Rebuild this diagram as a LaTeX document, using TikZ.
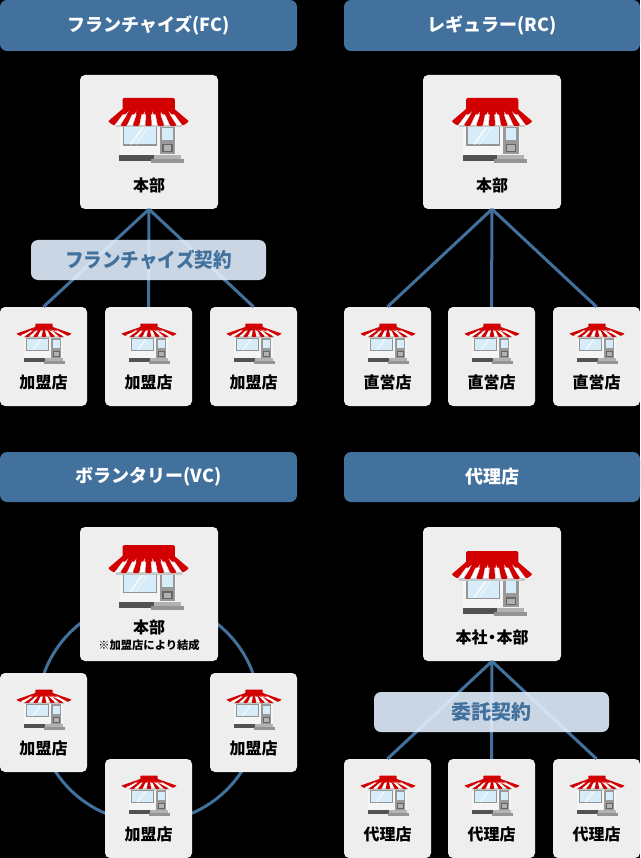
\documentclass[tikz,border=0pt]{standalone}
\usepackage{fontspec}
\setmainfont{Noto Sans CJK JP}
\definecolor{hdr}{RGB}{65,113,156}
\definecolor{boxc}{RGB}{238,238,238}
\definecolor{awn}{RGB}{210,0,0}
\definecolor{glass}{RGB}{214,236,248}
\definecolor{bandc}{RGB}{228,241,255}
\tikzset{
  header/.style={fill=hdr,draw=none,rounded corners=7pt,minimum width=297pt,minimum height=51pt,inner sep=0pt,text=white,font=\fontsize{18}{20}\selectfont\bfseries},
  bigbox/.style={fill=boxc,draw=none,rounded corners=5pt,minimum width=138pt,minimum height=134pt,inner sep=0pt},
  smallbox/.style={fill=boxc,draw=none,rounded corners=5pt,minimum width=87pt,minimum height=99pt,inner sep=0pt},
  lbl/.style={inner sep=0pt,text=black,font=\fontsize{16}{18}\selectfont\bfseries},
  note/.style={inner sep=0pt,text=black,font=\fontsize{11.3}{13}\selectfont\bfseries},
  link/.style={draw=hdr,line width=3pt},
  band/.style={fill=bandc,fill opacity=.89,text opacity=1,rounded corners=7pt,minimum width=235pt,minimum height=40pt,inner sep=0pt,text=hdr,font=\fontsize{20}{22}\selectfont\bfseries},
  shop/.pic={
    \fill[black!4] (-29,26) rectangle (27.5,57);
    \fill[black!42] (-25.7,27) rectangle (8.3,47.7);
    \fill[glass] (-24.5,28) rectangle (7.2,46.5);
    \fill[white!70!glass] (-19,46.5) -- (-6,28) -- (-3.5,28) -- (-16.5,46.5) -- cycle;
    \fill[white!70!glass] (-13,46.5) -- (0,28) -- (1,28) -- (-12,46.5) -- cycle;
    \fill[black!40] (11,27) rectangle (26.7,56.3);
    \fill[glass] (13.7,29.7) rectangle (24.3,42);
    \fill[black!60] (13.7,46) rectangle (24,54.3);
    \fill[black!30] (15.2,47.5) rectangle (22.5,52.8);
    \fill[black!68] (-29.3,57) rectangle (5,63);
    \fill[black!30] (5,57) rectangle (32.3,61);
    \fill[black!42] (2.3,61) rectangle (35,64.7);
    \fill[black!22] (-33,23) rectangle (33,29.5);
    \fill[awn] (-26,11) -- (26,11) -- (30,16.5) -- (-30,16.5) -- cycle;
    \foreach \i in {0,...,12}{
      \pgfmathsetmacro{\ta}{-26+4*\i}
      \pgfmathsetmacro{\tb}{-26+4*(\i+1)}
      \pgfmathsetmacro{\ba}{-40+6.154*\i}
      \pgfmathsetmacro{\bb}{-40+6.154*(\i+1)}
      \pgfmathsetmacro{\ya}{27-4*max(0,(abs(\ba)-34)/6)}
      \pgfmathsetmacro{\yb}{27-4*max(0,(abs(\bb)-34)/6)}
      \pgfmathsetmacro{\ca}{\ya+1.5}
      \pgfmathsetmacro{\cb}{\yb+1.5}
      \pgfmathparse{int(mod(\i,2))}
      \ifnum\pgfmathresult=0
        \fill[awn] (\ta,11) -- (\tb,11) -- (\bb,\yb) .. controls (\bb,\cb) and (\ba,\ca) .. (\ba,\ya) -- cycle;
      \else
        \fill[white] (\ta*.5+\tb*.5,13.5) -- (\bb-.5,\yb-.5) .. controls (\bb-.5,\cb-1) and (\ba+.5,\ca-1) .. (\ba+.5,\ya-.5) -- cycle;
      \fi
    }
    \fill[awn,rounded corners=1.5pt] (-26,0) rectangle (26.3,12);
  },
  minishop/.pic={
    \fill[black!4] (-20,11) rectangle (18.5,34);
    \fill[black!42] (-18,14.3) rectangle (4.7,26.7);
    \fill[glass] (-17.2,15) rectangle (3.9,26);
    \fill[white!70!glass] (-12,26) -- (-4,15) -- (-2.5,15) -- (-10.5,26) -- cycle;
    \fill[black!40] (7.3,14.3) rectangle (17,34.3);
    \fill[glass] (9,16) rectangle (15.5,24);
    \fill[black!60] (9,27) rectangle (15.5,33);
    \fill[black!30] (10,28) rectangle (14.5,32);
    \fill[black!68] (-20,34.3) rectangle (1.3,38.3);
    \fill[black!30] (1.3,34.3) rectangle (19,37);
    \fill[black!42] (-.5,37) rectangle (21,39.5);
    \fill[black!22] (-20,10) rectangle (20,14);
    \fill[awn] (-8.7,3) -- (8.7,3) -- (13,6.5) -- (-13,6.5) -- cycle;
    \foreach \i in {0,...,12}{
      \pgfmathsetmacro{\ta}{-8.7+1.338*\i}
      \pgfmathsetmacro{\tb}{-8.7+1.338*(\i+1)}
      \pgfmathsetmacro{\ba}{-27.3+4.2*\i}
      \pgfmathsetmacro{\bb}{-27.3+4.2*(\i+1)}
      \pgfmathsetmacro{\ya}{12.3-2.8*max(0,(abs(\ba)-21.5)/5.8)}
      \pgfmathsetmacro{\yb}{12.3-2.8*max(0,(abs(\bb)-21.5)/5.8)}
      \pgfmathsetmacro{\ca}{\ya+1}
      \pgfmathsetmacro{\cb}{\yb+1}
      \pgfmathparse{int(mod(\i,2))}
      \ifnum\pgfmathresult=0
        \fill[awn] (\ta,3) -- (\tb,3) -- (\bb,\yb) .. controls (\bb,\cb) and (\ba,\ca) .. (\ba,\ya) -- cycle;
      \else
        \fill[white] (\ta*.5+\tb*.5,5.5) -- (\bb-.5,\yb-.5) .. controls (\bb-.5,\cb-.8) and (\ba+.5,\ca-.8) .. (\ba+.5,\ya-.5) -- cycle;
      \fi
    }
    \fill[awn,rounded corners=.8pt] (-8.7,-.5) rectangle (8.7,3.8);
  }
}
\begin{document}
\begin{tikzpicture}[x=1pt,y=-1pt]
\useasboundingbox (0,0) rectangle (640,858);
\fill[black] (0,0) rectangle (640,858);

% ===== headers
\node[header] (hfc) at (148.5,25.5) {フランチャイズ(FC)};
\node[header,minimum width=296pt] (hrc) at (492,25.5) {レギュラー(RC)};
\node[header,minimum height=50pt] (hvc) at (148.5,477) {ボランタリー(VC)};
\node[header,minimum width=296pt,minimum height=50pt] (hag) at (492,477) {代理店};

% ===== boxes
\node[bigbox] (fc) at (149,142) {};
\node[bigbox] (rc) at (492,142) {};
\node[smallbox] (fc1) at (43.5,356.5) {};
\node[smallbox] (fc2) at (148.5,356.5) {};
\node[smallbox] (fc3) at (253.5,356.5) {};
\node[smallbox] (rc1) at (387.5,356.5) {};
\node[smallbox] (rc2) at (491.5,356.5) {};
\node[smallbox] (rc3) at (596.5,356.5) {};
\coordinate (vcc) at (148.5,711);
\draw[link] (vcc) circle (111);
\node[bigbox] (vc) at (149,594) {};
\node[smallbox] (vc1) at (43.5,722.5) {};
\node[smallbox] (vc2) at (253.5,722.5) {};
\node[smallbox] (vc3) at (148.5,808.5) {};
\node[bigbox] (ag) at (492,594) {};
\node[smallbox] (ag1) at (387.5,808.5) {};
\node[smallbox] (ag2) at (491.5,808.5) {};
\node[smallbox] (ag3) at (596.5,808.5) {};

% ===== connectors
\draw[link] (fc.south) -- (fc1.north);
\draw[link] (fc.south) -- (fc2.north);
\draw[link] (fc.south) -- (fc3.north);
\draw[link] (rc.south) -- (rc1.north);
\draw[link] (rc.south) -- (rc2.north);
\draw[link] (rc.south) -- (rc3.north);
\draw[link] (ag.south) -- (ag1.north);
\draw[link] (ag.south) -- (ag2.north);
\draw[link] (ag.south) -- (ag3.north);

% ===== bands
\node[band] (bfc) at (148.5,260) {\scalebox{.93}[1]{フランチャイズ契約}};
\node[band] (bag) at (491.5,712) {委託契約};

% ===== icons
\pic at (148.5,98) {shop};
\pic at (492,98) {shop};
\pic at (148.5,545) {shop};
\pic at (492,551) {shop};
\foreach \x in {44,149,254,388,492,597}{
  \pic at (\x,324) {minishop};
}
\pic at (44,690) {minishop};
\pic at (254,690) {minishop};
\pic at (149,776) {minishop};
\foreach \x in {388,492,597}{
  \pic at (\x,776) {minishop};
}

% ===== labels
\node[lbl] (t1) at (149,185) {本部};
\node[lbl] (t2) at (492,185) {本部};
\node[lbl] (t3) at (149,627) {本部};
\node[note] (t4) at (149,645) {※加盟店により結成};
\node[lbl] (t5) at (492,637) {本社\kern-3.5pt・\kern-3.5pt本部};
\foreach \x/\n in {43.5/a,148.5/b,253.5/c}{
  \node[lbl] (la\n) at (\x,382.5) {加盟店};
}
\foreach \x/\n in {387.5/a,491.5/b,596.5/c}{
  \node[lbl] (lb\n) at (\x,382.5) {直営店};
  \node[lbl] (lc\n) at (\x,834.5) {代理店};
}
\node[lbl] (ld1) at (43.5,748.5) {加盟店};
\node[lbl] (ld2) at (253.5,748.5) {加盟店};
\node[lbl] (ld3) at (148.5,834.5) {加盟店};
\end{tikzpicture}
\end{document}
